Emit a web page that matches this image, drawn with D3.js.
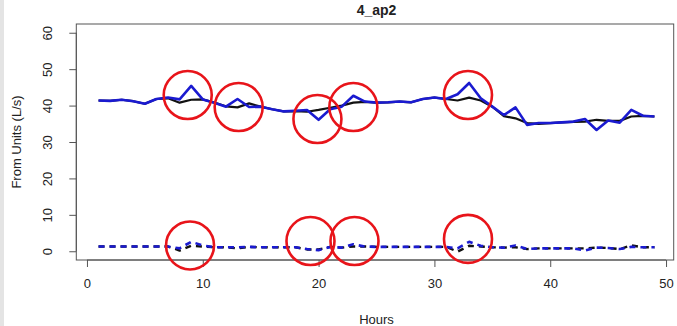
<!DOCTYPE html>
<html>
<head>
<meta charset="utf-8">
<script src="https://cdn.jsdelivr.net/npm/d3@7"></script>
<style>
  body { margin: 0; background: #fff; }
  #strip { position: absolute; left: 0; top: 0; width: 4px; height: 326px; background: #e4e4e4; }
  text { font-family: "Liberation Sans", Arial, Helvetica, sans-serif; fill: #222; }
</style>
</head>
<body>
<div id="strip"></div>
<svg id="chart" width="677" height="326"></svg>
<script>
// hours 1..49
const hours = d3.range(1, 50);

// upper pair of lines
const blueTop = [41.4, 41.3, 41.6, 41.2, 40.5, 41.8, 42.2, 41.7, 45.4, 41.7,
  40.8, 39.7, 41.8, 39.6, 39.7, 39.0, 38.4, 38.6, 38.8, 36.1,
  39.0, 39.7, 42.7, 41.1, 40.8, 40.9, 41.1, 40.9, 41.8, 42.2,
  41.8, 43.1, 46.2, 42.0, 39.7, 37.4, 39.5, 34.7, 35.2, 35.2,
  35.4, 35.6, 36.3, 33.3, 35.9, 35.3, 38.8, 37.2, 37.0];
const blackTop = [41.4, 41.3, 41.6, 41.2, 40.5, 41.8, 42.0, 40.8, 41.6, 41.7,
  40.8, 39.8, 39.5, 40.6, 39.7, 39.0, 38.4, 38.5, 38.3, 38.8,
  39.4, 40.0, 40.8, 41.0, 40.8, 40.9, 41.1, 40.9, 41.8, 42.2,
  41.8, 41.4, 42.2, 41.4, 39.7, 37.1, 36.5, 35.2, 35.0, 35.2,
  35.4, 35.5, 35.6, 36.1, 35.8, 35.8, 37.0, 37.2, 37.0];

// lower pair of (dashed) lines
const blueLow = [1.3, 1.3, 1.3, 1.3, 1.3, 1.3, 1.3, 0.8, 2.6, 1.6,
  1.1, 1.1, 1.1, 1.2, 1.1, 1.1, 1.1, 1.1, 0.6, 0.3,
  1.2, 1.0, 1.9, 1.3, 1.2, 1.2, 1.2, 1.2, 1.2, 1.2,
  1.2, 0.8, 2.6, 1.5, 1.1, 1.0, 1.6, 0.6, 0.8, 0.8,
  0.8, 0.8, 0.2, 1.0, 0.9, 0.6, 1.2, 1.1, 1.1];
const blackLow = [1.3, 1.3, 1.3, 1.3, 1.3, 1.3, 1.3, 0.2, 1.5, 1.3,
  1.1, 1.1, 0.8, 1.2, 1.1, 1.1, 1.1, 1.1, 0.5, 0.5,
  1.2, 1.0, 1.3, 1.3, 1.2, 1.2, 1.2, 1.2, 1.2, 1.2,
  1.2, -0.1, 1.5, 1.3, 1.1, 1.0, 1.1, 0.6, 0.8, 0.8,
  0.8, 0.8, 0.8, 1.0, 0.9, 0.6, 1.6, 1.1, 1.1];

// red highlight circles (centre in hours / L/s)
const circleHours = [8.7, 13.1, 19.9, 23.0, 32.9, 8.9, 19.3, 23.1, 32.9];
const circleValues = [42.9, 39.6, 36.3, 39.6, 42.9, 1.6, 2.8, 2.8, 3.4];

const xTicks = [0, 10, 20, 30, 40, 50];
const yTicks = [0, 10, 20, 30, 40, 50, 60];

class LineChart {
  constructor(_config) {
    this.config = {
      parentElement: _config.parentElement,
      left: 76.3, right: 676.7, top: 24, bottom: 260
    };
    this.initVis();
  }

  initVis() {
    let vis = this;
    const c = vis.config;
    vis.svg = d3.select(c.parentElement);

    // R style 4% padding on both axes
    const xPad = (49 - 1) * 0.04, yPad = 60 * 0.04;
    vis.x = d3.scaleLinear().domain([1 - xPad, 49 + xPad]).range([c.left, c.right]);
    vis.y = d3.scaleLinear().domain([0 - yPad, 60 + yPad]).range([c.bottom, c.top]);

    vis.renderVis();
  }

  renderVis() {
    let vis = this;
    const c = vis.config;
    const axisColor = "#555";

    // title
    vis.svg.append("text")
      .attr("x", (c.left + c.right) / 2).attr("y", 15)
      .attr("text-anchor", "middle")
      .style("font-size", "14px").style("font-weight", "bold")
      .text("4_ap2");

    // x axis
    const xAxis = vis.svg.append("g").attr("transform", `translate(0,${c.bottom})`)
      .call(d3.axisBottom(vis.x).tickValues(xTicks).tickSize(7).tickPadding(12).tickSizeOuter(0));
    xAxis.select(".domain").attr("d", `M${vis.x(0)},0H${vis.x(50)}`).attr("stroke", axisColor);
    xAxis.selectAll(".tick line").attr("stroke", axisColor);
    xAxis.selectAll(".tick text").style("font-size", "13px").attr("fill", "#222")
      .style("font-family", "Liberation Sans, Arial, sans-serif");

    // y axis with rotated labels
    const yAxis = vis.svg.append("g").attr("transform", `translate(${c.left},0)`)
      .call(d3.axisLeft(vis.y).tickValues(yTicks).tickSize(7).tickSizeOuter(0));
    yAxis.select(".domain").attr("d", `M0,${vis.y(0)}V${vis.y(60)}`).attr("stroke", axisColor);
    yAxis.selectAll(".tick line").attr("stroke", axisColor);
    yAxis.selectAll(".tick text")
      .attr("x", null).attr("dy", null)
      .attr("text-anchor", "middle")
      .attr("transform", "translate(-29,0) rotate(-90)")
      .attr("dy", "0.35em")
      .style("font-size", "13px").attr("fill", "#222")
      .style("font-family", "Liberation Sans, Arial, sans-serif");

    // axis titles
    vis.svg.append("text")
      .attr("x", (c.left + c.right) / 2).attr("y", 324)
      .attr("text-anchor", "middle").style("font-size", "13px")
      .text("Hours");
    vis.svg.append("text")
      .attr("transform", `translate(21,${(c.top + c.bottom) / 2}) rotate(-90)`)
      .attr("text-anchor", "middle").style("font-size", "13px")
      .text("From Units (L/s)");

    // plot box
    vis.svg.append("rect")
      .attr("x", c.left).attr("y", c.top)
      .attr("width", c.right - c.left - 3).attr("height", c.bottom - c.top)
      .attr("fill", "none").attr("stroke", axisColor).attr("stroke-width", 1);

    const line = d3.line().x((d, i) => vis.x(hours[i])).y(d => vis.y(d));

    const series = [
      { values: blackTop, color: "#111", width: 2.2, dash: null },
      { values: blueTop, color: "#1a1ad0", width: 2.6, dash: null },
      { values: blackLow, color: "#111", width: 2.4, dash: "6,5" },
      { values: blueLow, color: "#1a1ad0", width: 2.6, dash: "6,5" }
    ];

    vis.svg.selectAll("path.series")
      .data(series)
      .join("path")
      .attr("class", "series")
      .attr("d", d => line(d.values))
      .attr("fill", "none")
      .attr("stroke", d => d.color)
      .attr("stroke-width", d => d.width)
      .attr("stroke-dasharray", d => d.dash)
      .attr("stroke-linejoin", "round");

    // red circles marking the spikes
    vis.svg.selectAll("circle.mark")
      .data(circleHours)
      .join("circle")
      .attr("class", "mark")
      .attr("cx", d => vis.x(d))
      .attr("cy", (d, i) => vis.y(circleValues[i]))
      .attr("r", 24)
      .attr("fill", "none")
      .attr("stroke", "#e8141a")
      .attr("stroke-width", 2.6);
  }
}

new LineChart({ parentElement: "#chart" });
</script>
</body>
</html>
